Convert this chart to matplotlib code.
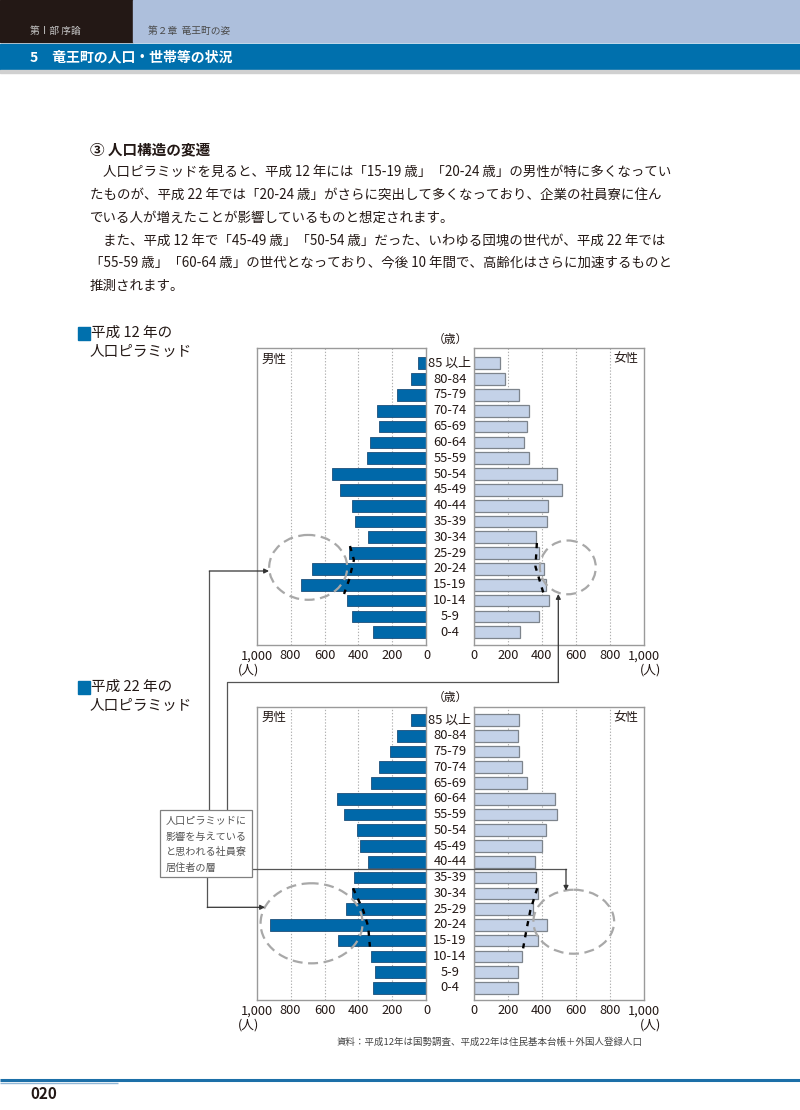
"""Population pyramids for Ryuo town, H12 vs H22, laid out as the report page."""

import matplotlib
matplotlib.use("Agg")
import matplotlib.pyplot as plt
from matplotlib.patches import Rectangle, Ellipse
from matplotlib.transforms import blended_transform_factory
import numpy as np

plt.rcParams["font.family"] = ["Noto Sans CJK JP", "DejaVu Sans"]

# ---- data (persons) -------------------------------------------------------
age_groups = ["85 以上", "80-84", "75-79", "70-74", "65-69", "60-64", "55-59",
              "50-54", "45-49", "40-44", "35-39", "30-34", "25-29", "20-24",
              "15-19", "10-14", "5-9", "0-4"]

male_h12 = [49, 91, 171, 293, 281, 331, 350, 555, 506, 441, 423, 343, 455,
            675, 736, 467, 437, 317]
female_h12 = [153, 182, 265, 322, 314, 294, 324, 488, 518, 435, 429, 363, 382,
              412, 424, 443, 382, 271]

male_h22 = [94, 171, 216, 278, 329, 525, 484, 408, 392, 345, 429, 441, 475,
            922, 520, 329, 304, 312]
female_h22 = [265, 259, 265, 282, 310, 475, 488, 422, 404, 359, 365, 376, 350,
              429, 376, 282, 259, 259]

x_ticks = [0, 200, 400, 600, 800, 1000]
x_tick_labels = ["0", "200", "400", "600", "800", "1,000"]

body_lines = [
    "人口ピラミッドを見ると、平成 12 年には「15-19 歳」「20-24 歳」の男性が特に多くなってい",
    "たものが、平成 22 年では「20-24 歳」がさらに突出して多くなっており、企業の社員寮に住ん",
    "でいる人が増えたことが影響しているものと想定されます。",
    "また、平成 12 年で「45-49 歳」「50-54 歳」だった、いわゆる団塊の世代が、平成 22 年では",
    "「55-59 歳」「60-64 歳」の世代となっており、今後 10 年間で、高齢化はさらに加速するものと",
    "推測されます。",
]
indented = [True, False, False, True, False, False]

note_lines = ["人口ピラミッドに", "影響を与えている", "と思われる社員寮", "居住者の層"]

MALE = "#0068a9"
MALE_EDGE = "#1d4f7a"
FEMALE = "#c4d2e8"
FEMALE_EDGE = "#7d848c"
FRAME = "#9a9a9a"
TEXT = "#231815"

W, H = 800, 1110


def px_axes(fig, x0, y0, x1, y1):
    return fig.add_axes([x0 / W, 1 - y1 / H, (x1 - x0) / W, (y1 - y0) / H])


def style_panel(ax, left):
    for s in ax.spines.values():
        s.set_color(FRAME)
        s.set_linewidth(1.0)
    ax.set_xticks(x_ticks)
    ax.set_xticklabels(x_tick_labels)
    ax.set_yticks([])
    ax.tick_params(axis="x", length=0, pad=3, labelsize=9.2, labelcolor=TEXT)
    for v in x_ticks[1:-1]:
        ax.axvline(v, color="#b0b0b0", linestyle=(0, (1.2, 1.6)), linewidth=0.8, zorder=0)
    if left:
        ax.set_xlim(1000, 0)
    else:
        ax.set_xlim(0, 1000)


def draw_pyramid(fig, ov, y_top, y_bot, row0, row_step, male, female, marks):
    n = len(age_groups)
    lo = -(row0 - y_top) / row_step
    hi = (y_bot - row0) / row_step
    y = np.arange(n)

    axl = px_axes(fig, 256.5, y_top, 426.5, y_bot)
    axr = px_axes(fig, 473.8, y_top, 643.8, y_bot)
    for ax, left in ((axl, True), (axr, False)):
        style_panel(ax, left)
        ax.set_ylim(hi, lo)

    axl.barh(y, male, height=0.74, color=MALE, edgecolor=MALE_EDGE, linewidth=0.6, zorder=2)
    axr.barh(y, female, height=0.74, color=FEMALE, edgecolor=FEMALE_EDGE, linewidth=0.9, zorder=2)

    tr = blended_transform_factory(axl.transAxes, axl.transData)
    cx = (450 - 256.5) / 170.0
    for i, lab in enumerate(age_groups):
        axl.text(cx, i, lab, transform=tr, ha="center", va="center",
                 fontsize=9.3, color=TEXT, clip_on=False)

    axl.text(0.03, 0.985, "男性", transform=axl.transAxes, ha="left", va="top",
             fontsize=9, color=TEXT)
    axr.text(0.97, 0.985, "女性", transform=axr.transAxes, ha="right", va="top",
             fontsize=9, color=TEXT)
    ov.text(450, y_top - 9, "（歳）", ha="center", va="center", fontsize=8.5, color=TEXT)
    ov.text(238, y_bot + 25, "(人)", ha="left", va="center", fontsize=9.2, color=TEXT)
    ov.text(661, y_bot + 25, "(人)", ha="right", va="center", fontsize=9.2, color=TEXT)

    # dashed ellipses and "expected" outline
    for ax, key in ((axl, "l"), (axr, "r")):
        (ex, ey, ew, eh), pts = marks[key]
        ax.add_patch(Ellipse((ex, ey), ew, eh, fill=False, edgecolor="#a8a8a8",
                             linewidth=1.6, linestyle=(0, (4.5, 2.5)), zorder=4,
                             clip_on=False))
        px, py = zip(*pts)
        ax.plot(px, py, color="black", linewidth=1.7, linestyle=(0, (2.2, 2.6)),
                zorder=5, clip_on=False)
    return axl, axr


fig = plt.figure(figsize=(W / 100, H / 100), dpi=100)
ov = fig.add_axes([0, 0, 1, 1], zorder=10)
ov.set_xlim(0, W)
ov.set_ylim(H, 0)
ov.axis("off")
ov.patch.set_alpha(0)

# ---- header ---------------------------------------------------------------
ov.add_patch(Rectangle((0, 0), 133, 42, color="#231815", zorder=0))
ov.add_patch(Rectangle((133, 0), W - 133, 42, color="#adbfdc", zorder=0))
ov.add_patch(Rectangle((0, 44), W, 26, color="#0070ad", zorder=0))
ov.add_patch(Rectangle((0, 70), W, 3, color="#d0d0d0", zorder=0))
ov.text(30, 31, "第Ⅰ部 序論", fontsize=7, color="#c8c8c8", va="center")
ov.text(148, 31, "第２章  竜王町の姿", fontsize=7, color="#4a4a4a", va="center")
ov.text(30, 57.5, "5　竜王町の人口・世帯等の状況", fontsize=10, color="white",
        va="center", fontweight="bold")

# ---- body text ------------------------------------------------------------
ov.text(90, 149, "③ 人口構造の変遷", fontsize=10.5, fontweight="bold", color=TEXT, va="center")
for i, (line, ind) in enumerate(zip(body_lines, indented)):
    ov.text(103 if ind else 90, 172 + i * 22.8, line, fontsize=9.7, color=TEXT, va="center")

# ---- section headings -----------------------------------------------------
for y0, yr in ((333, "12"), (687, "22")):
    ov.add_patch(Rectangle((78, y0 - 6.5), 12, 13, color="#0070ad"))
    ov.text(91, y0, f"平成 {yr} 年の", fontsize=10.5, color=TEXT, va="center")
    ov.text(90, y0 + 19, "人口ピラミッド", fontsize=10.5, color=TEXT, va="center")

# ---- pyramids -------------------------------------------------------------
marks_h12 = {
    "l": ((696, 12.9, 459, 4.1), [(450, 11.55), (427, 12.43), (456, 13.7), (485, 14.58)]),
    "r": ((553, 12.9, 329, 3.4), [(371, 11.36), (363, 12.86), (410, 14.54)]),
}
marks_h22 = {
    "l": ((676, 12.9, 600, 5.08), [(432, 10.68), (373, 12.06), (343, 13.1), (333, 14.38)]),
    "r": ((588, 12.8, 475, 4.06), [(373, 10.68), (333, 12.06), (310, 13.3), (290, 14.49)]),
}
draw_pyramid(fig, ov, 348, 645, 363.3, 15.82, male_h12, female_h12, marks_h12)
draw_pyramid(fig, ov, 706.7, 1000, 720, 15.76, male_h22, female_h22, marks_h22)

# ---- call-out box and leader lines -----------------------------------------
ov.add_patch(Rectangle((160, 810), 91.7, 67.3, facecolor="white", edgecolor="#808080",
                       linewidth=0.9, zorder=3))
for i, t in enumerate(note_lines):
    ov.text(166, 821 + i * 15.5, t, fontsize=7.3, color="#555555", va="center", zorder=4)

LINE = "#555555"
paths = [
    [(209.3, 810), (209.3, 571), (269, 571)],
    [(226.7, 810), (226.7, 682), (558.3, 682), (558.3, 594)],
    [(207.3, 877.3), (207.3, 907.3), (265, 907.3)],
    [(251.7, 869.3), (566, 869.3), (566, 890.7)],
]
for p in paths:
    xs, ys = zip(*p)
    ov.plot(xs[:-1], ys[:-1], color=LINE, linewidth=0.9, zorder=2)
    ov.annotate("", xy=p[-1], xytext=p[-2],
                arrowprops=dict(arrowstyle="-|>", color="#333333", lw=0.9,
                                mutation_scale=7, shrinkA=0, shrinkB=0), zorder=2)

ov.text(643, 1042, "資料：平成12年は国勢調査、平成22年は住民基本台帳＋外国人登録人口",
        ha="right", va="center", fontsize=6.8, color="#444444")

# ---- footer ---------------------------------------------------------------
ov.plot([0, W], [1080, 1080], color="#1c6fa8", linewidth=2.2, solid_capstyle="butt")
ov.plot([0, 118], [1082.5, 1082.5], color="#8fb6d6", linewidth=1.0, solid_capstyle="butt")
ov.text(30, 1094, "020", fontsize=11, fontweight="bold", color=TEXT, va="center")

fig.savefig("out.png", dpi=100)
